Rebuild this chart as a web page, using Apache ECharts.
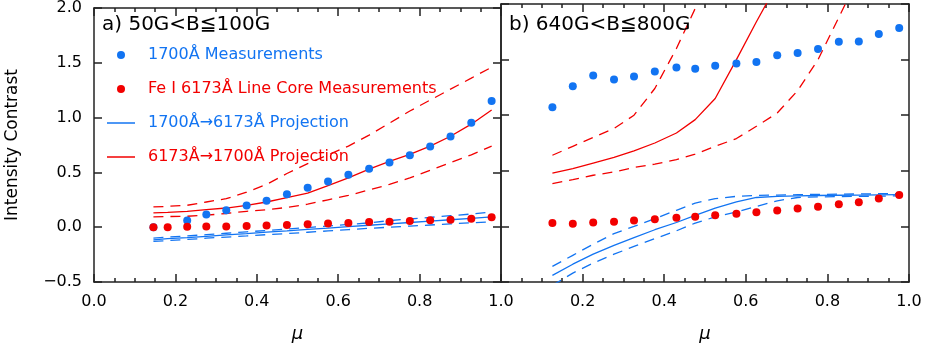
<!DOCTYPE html>
<html><head><meta charset="utf-8">
<script src="https://cdn.jsdelivr.net/npm/echarts@6/dist/echarts.min.js"></script>
<style>html,body{margin:0;padding:0;background:#fff}#c{width:926px;height:348px}</style>
</head><body><div id="c"></div>
<script>
// ---------- Data ----------
const X_TICKS = [0.0, 0.2, 0.4, 0.6, 0.8, 1.0];
const Y_TICKS = [-0.5, 0.0, 0.5, 1.0, 1.5, 2.0];

// Panel a) 50G<B<=100G
const MU_A = [0.146,0.181,0.229,0.276,0.325,0.375,0.424,0.474,0.525,0.575,0.625,0.676,0.726,0.776,0.826,0.876,0.927,0.977];
const A_1700_MEAS = [0.0,null,0.06,0.117,0.155,0.197,0.242,0.30,0.361,0.418,0.478,0.534,0.591,0.657,0.737,0.827,0.952,1.152];
const A_6173_MEAS = [0.0,0.0,0.003,0.006,0.006,0.012,0.015,0.021,0.027,0.033,0.039,0.047,0.05,0.056,0.063,0.068,0.077,0.09];
const A_PROJ_17_61 = [-0.115,-0.105,-0.095,-0.083,-0.07,-0.058,-0.045,-0.033,-0.02,-0.008,0.005,0.018,0.03,0.043,0.055,0.068,0.08,0.095];
const A_PROJ_17_61_HI = [-0.1,-0.09,-0.08,-0.068,-0.055,-0.042,-0.03,-0.016,-0.003,0.01,0.025,0.04,0.06,0.075,0.09,0.105,0.12,0.14];
const A_PROJ_17_61_LO = [-0.13,-0.122,-0.112,-0.1,-0.09,-0.08,-0.068,-0.058,-0.046,-0.034,-0.022,-0.01,0.0,0.01,0.02,0.03,0.04,0.05];
const A_PROJ_61_17 = [0.13,0.135,0.145,0.16,0.175,0.2,0.23,0.27,0.31,0.38,0.45,0.53,0.60,0.665,0.74,0.83,0.94,1.07];
const A_PROJ_61_17_HI = [0.185,0.19,0.2,0.23,0.26,0.32,0.39,0.49,0.58,0.66,0.74,0.84,0.95,1.06,1.16,1.26,1.36,1.46];
const A_PROJ_61_17_LO = [0.095,0.097,0.1,0.11,0.125,0.145,0.16,0.18,0.21,0.25,0.29,0.34,0.39,0.45,0.52,0.59,0.66,0.74];

// Panel b) 640G<B<=800G
const MU_B = [0.126,0.176,0.226,0.277,0.326,0.377,0.43,0.476,0.525,0.577,0.626,0.677,0.727,0.777,0.828,0.877,0.926,0.976];
const B_1700_MEAS = [1.072,1.26,1.356,1.32,1.347,1.392,1.43,1.418,1.445,1.466,1.478,1.54,1.56,1.595,1.66,1.663,1.73,1.784];
const B_6173_MEAS = [0.03,0.023,0.036,0.041,0.054,0.065,0.077,0.086,0.101,0.113,0.128,0.143,0.161,0.176,0.2,0.218,0.25,0.283];
const B_PROJ_17_61 = [-0.44,-0.34,-0.25,-0.17,-0.1,-0.03,0.035,0.1,0.165,0.22,0.26,0.27,0.275,0.278,0.28,0.282,0.284,0.285];
const B_PROJ_17_61_HI = [-0.36,-0.26,-0.16,-0.065,0.0,0.07,0.145,0.21,0.25,0.27,0.278,0.282,0.285,0.288,0.29,0.292,0.294,0.295];
const B_PROJ_17_61_LO = [-0.53,-0.42,-0.33,-0.25,-0.18,-0.11,-0.04,0.03,0.085,0.13,0.18,0.23,0.26,0.265,0.268,0.27,0.272,0.275];
const B_PROJ_61_17 = [0.48,0.52,0.57,0.62,0.68,0.75,0.84,0.96,1.15,1.5,1.84,2.18,2.5];
const B_PROJ_61_17_HI = [0.64,0.72,0.80,0.88,1.0,1.24,1.6,1.96,2.35];
const B_PROJ_61_17_LO = [0.385,0.42,0.46,0.49,0.53,0.56,0.6,0.65,0.72,0.79,0.9,1.02,1.22,1.5,1.88,2.25];

const PANEL_TITLES = ['a) 50G<B\u2266100G', 'b) 640G<B\u2266800G'];
const NAMES = ['1700\u00C5 Measurements', 'Fe I 6173\u00C5 Line Core Measurements', '1700\u00C5\u21926173\u00C5 Projection', '6173\u00C5\u21921700\u00C5 Projection'];

// ---------- Styling ----------
const BLUE = '#1274f2';
const RED = '#f20000';
const FONT = 'DejaVu Sans';
const AX = '#222';
const LINE_ICON = 'path://M0,0 H28 V1.5 H0 Z';

function zip(mu, vals) { return vals.map((v, i) => [mu[i], v]); }

// Frame axes: axis line + inward ticks only (minimal config)
function xFrame(grid, pos) {
  return {
    type: 'value', gridIndex: grid, position: pos, min: 0, max: 1, interval: 0.2,
    axisLine: { show: true, onZero: false, lineStyle: { color: AX, width: 1.5 } },
    axisTick: { show: true, inside: true, length: 8, lineStyle: { color: AX, width: 1.5 } },
    minorTick: { show: true, splitNumber: 4, length: 4, lineStyle: { color: AX, width: 1.5 } },
    splitLine: { show: false }, minorSplitLine: { show: false },
    axisLabel: { show: false }
  };
}
function yFrame(grid, pos) {
  return {
    type: 'value', gridIndex: grid, position: pos, min: -0.5, max: 2.0, interval: 0.5,
    axisLine: { show: true, onZero: false, lineStyle: { color: AX, width: 1.5 } },
    axisTick: { show: true, inside: true, length: 8, lineStyle: { color: AX, width: 1.5 } },
    splitLine: { show: false },
    axisLabel: { show: false }
  };
}
// Label axes: tick labels and axis titles only
function xLabels(grid, hideZero) {
  return {
    type: 'value', gridIndex: grid, position: 'bottom', min: 0, max: 1, interval: 0.2,
    axisLine: { show: false, onZero: false }, axisTick: { show: false }, splitLine: { show: false },
    axisLabel: { show: true, margin: 12, color: '#000', fontSize: 16, fontFamily: FONT,
      formatter: v => (hideZero && v === 0) ? '' : v.toFixed(1) },
    name: '\u03BC', nameLocation: 'middle', nameGap: 43,
    nameTextStyle: { fontSize: 18, fontStyle: 'italic', fontFamily: FONT, color: '#000' }
  };
}
function yLabels(grid) {
  return {
    type: 'value', gridIndex: grid, position: 'left', min: -0.5, max: 2.0, interval: 0.5,
    axisLine: { show: false, onZero: false }, axisTick: { show: false }, splitLine: { show: false },
    axisLabel: { show: true, margin: 12, color: '#000', fontSize: 16, fontFamily: FONT,
      formatter: v => v.toFixed(1).replace('-', '\u2212') },
    name: 'Intensity Contrast', nameLocation: 'middle', nameGap: 73,
    nameTextStyle: { fontSize: 17, fontFamily: FONT, color: '#000' }
  };
}

function scatter(name, xi, data, color) {
  return { type: 'scatter', name, xAxisIndex: xi, yAxisIndex: xi, data, symbol: 'circle', symbolSize: 8,
    itemStyle: { color, opacity: 1 }, z: 3 };
}
function line(name, xi, data, color, dashed) {
  return { type: 'line', name, xAxisIndex: xi, yAxisIndex: xi, data, symbol: 'none', clip: true,
    lineStyle: { color, width: 1.3, type: dashed ? [10, 7] : 'solid' }, itemStyle: { color }, z: 2 };
}

const option = {
  animation: false,
  grid: [
    { left: 94, top: 4, width: 407, height: 279 },
    { left: 501, top: 4, width: 408, height: 279 }
  ],
  title: [
    { text: PANEL_TITLES[0], left: 102, top: 15, padding: 0, textStyle: { fontSize: 20, fontWeight: 'normal', color: '#000', fontFamily: FONT } },
    { text: PANEL_TITLES[1], left: 509, top: 15, padding: 0, textStyle: { fontSize: 20, fontWeight: 'normal', color: '#000', fontFamily: FONT } }
  ],
  legend: {
    orient: 'vertical', left: 107, top: 47, itemWidth: 28, itemHeight: 8, itemGap: 18,
    selectedMode: false, padding: 0,
    textStyle: { fontSize: 16, fontFamily: FONT, lineHeight: 16, padding: [0, 0, 0, 8] },
    data: [
      { name: NAMES[0], icon: 'circle', itemStyle: { color: BLUE, opacity: 1 }, textStyle: { color: BLUE } },
      { name: NAMES[1], icon: 'circle', itemStyle: { color: RED, opacity: 1 }, textStyle: { color: RED } },
      { name: NAMES[2], icon: LINE_ICON, itemStyle: { color: BLUE, opacity: 1 }, textStyle: { color: BLUE } },
      { name: NAMES[3], icon: LINE_ICON, itemStyle: { color: RED, opacity: 1 }, textStyle: { color: RED } }
    ]
  },
  // x: 0 = a bottom frame, 1 = a top frame, 2 = b bottom frame, 3 = b top frame, 4 = a labels, 5 = b labels
  xAxis: [xFrame(0, 'bottom'), xFrame(0, 'top'), xFrame(1, 'bottom'), xFrame(1, 'top'), xLabels(0, false), xLabels(1, true)],
  // y: 0 = a left frame, 1 = a right frame, 2 = b left frame, 3 = b right frame, 4 = a labels
  yAxis: [yFrame(0, 'left'), yFrame(0, 'right'), yFrame(1, 'left'), yFrame(1, 'right'), yLabels(0)],
  series: [
    // panel a
    line(NAMES[3], 0, zip(MU_A, A_PROJ_61_17), RED, false),
    line('a61hi', 0, zip(MU_A, A_PROJ_61_17_HI), RED, true),
    line('a61lo', 0, zip(MU_A, A_PROJ_61_17_LO), RED, true),
    line(NAMES[2], 0, zip(MU_A, A_PROJ_17_61), BLUE, false),
    line('a17hi', 0, zip(MU_A, A_PROJ_17_61_HI), BLUE, true),
    line('a17lo', 0, zip(MU_A, A_PROJ_17_61_LO), BLUE, true),
    scatter(NAMES[0], 0, zip(MU_A, A_1700_MEAS).filter(d => d[1] !== null), BLUE),
    scatter(NAMES[1], 0, zip(MU_A, A_6173_MEAS), RED),
    // panel b
    line(NAMES[3], 2, zip(MU_B, B_PROJ_61_17), RED, false),
    line('b61hi', 2, zip(MU_B, B_PROJ_61_17_HI), RED, true),
    line('b61lo', 2, zip(MU_B, B_PROJ_61_17_LO), RED, true),
    line(NAMES[2], 2, zip(MU_B, B_PROJ_17_61), BLUE, false),
    line('b17hi', 2, zip(MU_B, B_PROJ_17_61_HI), BLUE, true),
    line('b17lo', 2, zip(MU_B, B_PROJ_17_61_LO), BLUE, true),
    scatter(NAMES[0], 2, zip(MU_B, B_1700_MEAS), BLUE),
    scatter(NAMES[1], 2, zip(MU_B, B_6173_MEAS), RED)
  ]
};
const chart = echarts.init(document.getElementById('c'));
chart.setOption(option);
</script>
</body></html>
